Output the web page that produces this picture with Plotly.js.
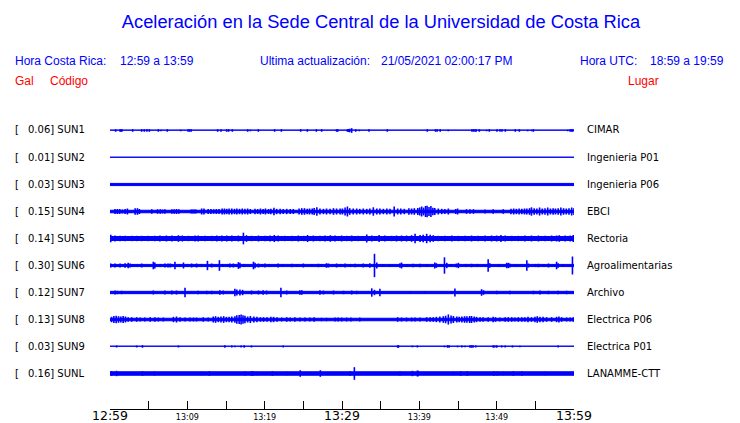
<!DOCTYPE html>
<html><head><meta charset="utf-8">
<script src="https://cdn.plot.ly/plotly-3.0.1.min.js"></script>
<style>html,body{margin:0;padding:0;background:#fff}#chart{width:740px;height:423px}</style>
</head><body><div id="chart"></div>
<script>
// ---- data (times in minutes after 12:59 local, amplitudes in Gal) ----
const codes = ['SUN1','SUN2','SUN3','SUN4','SUN5','SUN6','SUN7','SUN8','SUN9','SUNL'];
const peakGal = ['0.06','0.01','0.03','0.15','0.14','0.30','0.12','0.13','0.03','0.16'];
const places = ['CIMAR','Ingenieria P01','Ingenieria P06','EBCI','Rectoria','Agroalimentarias','Archivo','Electrica P06','Electrica P01','LANAMME-CTT'];
const noiseGal = [0.009, 0.007, 0.028, 0.032, 0.05, 0.028, 0.03, 0.032, 0.007, 0.045];
const tickMinutes = [0,5,10,15,20,25,30,35,40,45,50,55,60];
const tickLabels = ['12:59','','13:09','','13:19','','13:29','','13:39','','13:49','','13:59'];
const majorLabels = ['12:59','13:29','13:59'];

const sun1 = [[0.73,.033],[1.3,.033],[1.42,.033],[1.55,.033],[2.93,.033],[4.09,.033],[4.44,.033],[4.78,.033],[5.09,.033],[6.25,.033],[6.59,.02],[7.41,.033],[9.14,.02],[10.1,.033],[10.3,.033],[10.5,.033],[13.92,.033],[14.35,.033],[15.09,.033],[15.34,.033],[15.82,.033],[17.8,.033],[18.15,.02],[19.18,.033],[21.29,.033],[22.16,.033],[24.66,.033],[25.52,.033],[26.68,.033],[27.37,.033],[29.3,.033],[29.45,.033],[30.7,.033],[30.85,.04],[31.0,.045],[31.25,.06],[31.77,.033],[32.24,.02],[33.49,.033],[35.86,.033],[41.03,.033],[42.1,.033],[42.3,.033],[42.7,.033],[43.75,.02],[46.8,.033],[47.0,.033],[47.2,.033],[47.35,.033],[47.76,.033],[48.7,.02],[49.05,.033],[50.04,.033],[50.43,.033],[50.69,.033],[51.12,.033],[52.41,.033],[52.93,.033],[54.0,.02],[54.53,.02],[54.74,.033],[59.18,.02],[59.5,.033],[59.7,.033],[59.85,.033]];
const sun2 = [];
const sun3 = [];
const sun4 = [[0.65,.064],[0.95,.064],[1.25,.064],[1.6,.051],[1.95,.064],[2.25,.077],[3.25,.085],[3.55,.085],[3.8,.064],[5.4,.059],[6.15,.059],[6.5,.059],[6.8,.051],[7.1,.059],[8.0,.059],[8.3,.059],[8.6,.064],[8.9,.059],[10.5,.051],[10.7,.051],[10.9,.051],[11.1,.051],[11.85,.077],[12.15,.077],[12.7,.064],[13.05,.064],[13.4,.059],[13.75,.064],[14.1,.064],[14.5,.077],[14.8,.077],[15.1,.069],[15.4,.077],[15.75,.077],[16.1,.069],[16.4,.077],[16.75,.069],[17.1,.077],[17.45,.069],[17.8,.077],[18.15,.064],[18.75,.069],[19.1,.064],[19.45,.077],[19.8,.064],[20.1,.077],[20.5,.064],[20.8,.069],[21.2,.095],[21.55,.069],[22.0,.069],[22.4,.064],[22.85,.069],[23.3,.064],[23.7,.064],[24.45,.077],[24.8,.085],[25.15,.085],[25.5,.069],[25.8,.077],[26.15,.077],[26.4,.09],[26.75,.108],[27.15,.077],[27.6,.069],[28.0,.077],[28.45,.069],[28.9,.085],[29.3,.077],[29.75,.077],[30.05,.077],[30.4,.103],[30.7,.128],[31.0,.085],[31.45,.077],[31.9,.077],[32.3,.069],[32.75,.077],[33.2,.069],[33.6,.077],[34.05,.108],[34.5,.077],[34.9,.077],[35.35,.069],[35.8,.077],[36.2,.069],[36.75,.128],[37.2,.077],[37.6,.077],[38.05,.069],[38.65,.085],[39.0,.077],[39.35,.085],[39.8,.09],[40.05,.103],[40.3,.128],[40.55,.1],[40.8,.141],[41.0,.15],[41.25,.115],[41.5,.141],[41.75,.095],[42.0,.09],[42.45,.077],[42.9,.069],[43.3,.064],[43.75,.077],[44.7,.064],[44.95,.077],[46.1,.059],[46.55,.059],[47.0,.059],[48.5,.051],[49.55,.059],[50.85,.059],[51.85,.069],[52.2,.077],[52.55,.069],[52.9,.077],[53.25,.069],[53.6,.077],[53.9,.077],[54.25,.085],[54.5,.108],[54.85,.085],[55.2,.077],[55.55,.103],[55.9,.077],[56.25,.085],[56.6,.103],[56.95,.077],[57.3,.085],[57.6,.077],[57.95,.085],[58.3,.103],[58.65,.085],[59.0,.077],[59.35,.085],[59.7,.103],[60.0,.09]];
const sun5 = [[0.1,.097],[0.65,.077],[1.3,.069],[1.95,.069],[2.8,.069],[3.45,.069],[4.1,.069],[4.95,.069],[5.8,.069],[6.45,.077],[7.3,.077],[8.0,.077],[8.85,.085],[9.35,.077],[10.15,.069],[11.0,.077],[11.4,.077],[12.3,.069],[13.15,.069],[13.8,.077],[14.45,.077],[15.1,.077],[15.75,.077],[16.6,.077],[17.25,.149],[17.65,.085],[18.3,.069],[19.2,.077],[20.05,.069],[20.7,.077],[21.25,.09],[21.75,.077],[22.6,.069],[23.5,.069],[24.35,.077],[25.05,.069],[25.55,.09],[26.3,.077],[27.15,.069],[27.8,.077],[28.5,.085],[29.1,.077],[29.95,.077],[30.6,.069],[31.25,.077],[32.1,.069],[33.2,.103],[33.85,.077],[34.8,.09],[35.55,.077],[36.4,.069],[37.05,.077],[37.7,.077],[38.35,.077],[39.0,.085],[39.45,.121],[40.1,.09],[40.5,.097],[40.95,.121],[41.4,.097],[41.8,.085],[42.45,.069],[43.3,.069],[44.2,.077],[45.05,.069],[45.9,.069],[46.75,.077],[47.6,.069],[48.5,.077],[49.35,.077],[50.0,.077],[50.55,.09],[51.1,.077],[51.95,.069],[52.8,.069],[53.65,.077],[54.5,.077],[55.4,.077],[56.25,.069],[57.1,.077],[57.75,.077],[58.1,.085],[58.85,.077],[59.5,.077],[59.9,.09],
  [0.35,.064],[1.0,.064],[1.6,.064],[2.4,.064],[3.1,.064],[3.8,.064],[4.5,.064],[5.35,.064],[6.1,.064],[6.9,.064],[7.65,.064],[8.4,.064],[9.7,.064],[10.6,.064],[11.8,.064],[12.7,.064],[13.5,.064],[14.1,.064],[14.8,.064],[15.4,.064],[16.2,.064],[16.9,.064],[17.95,.064],[18.7,.064],[19.6,.064],[20.4,.064],[21.0,.064],[22.2,.064],[23.0,.064],[23.9,.064],[24.7,.064],[25.3,.064],[25.9,.064],[26.7,.064],[27.5,.064],[28.15,.064],[28.8,.064],[29.5,.064],[30.3,.064],[30.9,.064],[31.7,.064],[32.6,.064],[33.5,.064],[34.3,.064],[35.2,.064],[35.9,.064],[36.7,.064],[38.0,.064],[38.7,.064],[39.75,.064],[41.6,.064],[42.1,.064],[42.9,.064],[43.7,.064],[44.6,.064],[45.5,.064],[46.3,.064],[47.2,.064],[48.0,.064],[48.9,.064],[49.7,.064],[50.3,.064],[50.8,.064],[51.5,.064],[52.4,.064],[53.2,.064],[54.1,.064],[54.9,.064],[55.8,.064],[56.7,.064],[57.4,.064],[58.5,.064],[59.2,.064]];
const sun6 = [[0.1,.051],[0.65,.051],[1.3,.051],[1.95,.059],[2.35,.069],[2.6,.051],[4.1,.051],[5.6,.097],[5.8,.077],[7.1,.051],[7.5,.051],[7.8,.051],[8.4,.097],[9.5,.077],[10.55,.051],[11.2,.051],[12.6,.12],[13.15,.051],[14.15,.136],[15.5,.051],[15.95,.051],[16.6,.085],[16.8,.069],[18.55,.097],[18.75,.069],[19.2,.051],[20.05,.051],[21.75,.051],[23.5,.044],[25.0,.051],[26.95,.044],[28.0,.059],[28.25,.051],[29.3,.051],[30.4,.051],[31.7,.044],[32.75,.051],[33.6,.059],[34.2,.30],[34.5,.077],[37.5,.059],[37.7,.077],[39.2,.044],[40.1,.044],[42.0,.077],[42.2,.059],[43.25,.21],[43.55,.069],[44.8,.051],[45.05,.069],[46.75,.044],[48.9,.162],[49.1,.059],[51.3,.069],[51.5,.069],[51.7,.051],[53.9,.136],[54.1,.051],[55.4,.044],[56.7,.051],[57.75,.097],[57.95,.059],[59.8,.23],
  [3.0,.04],[3.5,.04],[6.5,.04],[9.0,.04],[10.0,.04],[11.8,.04],[14.6,.04],[15.2,.04],[17.3,.04],[19.7,.04],[20.6,.04],[22.3,.04],[24.2,.04],[26.1,.04],[27.3,.04],[29.8,.04],[31.1,.04],[33.1,.04],[35.3,.04],[36.2,.04],[38.4,.04],[41.0,.04],[44.1,.04],[46.0,.04],[47.5,.04],[50.3,.04],[52.5,.04],[55.0,.04],[56.1,.04],[58.6,.04]];
const sun7 = [[0.65,.051],[0.95,.044],[1.5,.044],[5.6,.051],[7.1,.051],[8.0,.051],[8.6,.051],[9.7,.121],[11.4,.044],[12.5,.044],[13.15,.044],[14.2,.059],[14.65,.051],[16.15,.097],[16.4,.077],[16.8,.077],[17.15,.069],[18.3,.051],[19.2,.051],[19.8,.059],[20.25,.051],[22.1,.12],[22.85,.051],[24.55,.059],[24.8,.059],[27.15,.059],[27.6,.051],[28.9,.051],[30.2,.044],[31.25,.051],[31.9,.044],[33.85,.108],[34.2,.069],[34.9,.097],[38.8,.038],[40.75,.038],[44.6,.103],[48.05,.085],[48.3,.059],[50.0,.044],[51.7,.044],[54.75,.044],[55.6,.051],[56.7,.044],[57.95,.044],[59.05,.044]];
const sun8 = [[0.2,.069],[0.5,.09],[0.8,.097],[1.1,.085],[1.4,.077],[1.7,.09],[2.0,.077],[2.35,.059],[2.8,.059],[3.45,.059],[3.9,.051],[4.5,.051],[5.2,.059],[5.8,.059],[6.25,.051],[6.9,.051],[8.2,.069],[8.6,.077],[9.05,.059],[9.7,.051],[10.35,.051],[10.8,.051],[11.2,.051],[12.05,.059],[12.7,.051],[13.35,.077],[13.65,.085],[14.0,.069],[14.35,.077],[14.7,.085],[15.05,.069],[15.4,.069],[15.75,.077],[16.15,.085],[16.4,.108],[16.7,.115],[16.95,.13],[17.2,.108],[17.45,.097],[17.8,.077],[18.15,.09],[18.6,.077],[19.0,.069],[19.45,.059],[19.85,.059],[20.3,.059],[20.8,.069],[21.15,.069],[21.6,.059],[22.2,.051],[22.85,.059],[23.3,.051],[23.9,.059],[24.55,.051],[25.2,.051],[25.85,.051],[26.4,.059],[27.35,.044],[28.0,.044],[29.1,.051],[29.5,.051],[29.95,.051],[30.6,.051],[31.15,.051],[32.3,.051],[37.2,.059],[37.7,.051],[38.35,.051],[39.0,.051],[39.45,.051],[40.1,.051],[40.95,.059],[41.4,.059],[41.8,.059],[42.2,.069],[42.65,.077],[43.1,.085],[43.4,.097],[43.75,.13],[44.1,.103],[44.4,.09],[44.85,.077],[45.15,.069],[45.5,.077],[45.85,.085],[46.15,.085],[46.5,.09],[46.75,.09],[47.1,.077],[47.4,.069],[47.85,.059],[48.25,.059],[48.9,.059],[49.55,.069],[49.85,.059],[50.4,.051],[51.1,.059],[51.5,.059],[51.95,.059],[52.35,.051],[52.8,.059],[53.25,.059],[53.65,.059],[54.05,.069],[54.5,.059],[54.95,.069],[55.25,.085],[55.6,.069],[56.0,.069],[56.45,.059],[57.1,.059],[57.75,.069],[58.05,.077],[58.4,.059],[59.05,.051],[59.5,.051],[59.9,.059]];
const sun9 = [[0.85,.026],[3.45,.026],[4.2,.033],[8.85,.026],[14.85,.033],[15.75,.026],[16.15,.021],[16.95,.026],[17.35,.033],[18.3,.026],[22.4,.026],[37.2,.033],[37.3,.033],[39.1,.021],[39.75,.026],[43.25,.021],[43.65,.033],[43.85,.033],[44.95,.021],[45.5,.026],[45.9,.021],[46.55,.033],[46.75,.033],[46.95,.033],[47.3,.026],[49.55,.033],[49.75,.026],[50.0,.033],[50.65,.026],[51.1,.026],[52.05,.026],[53.0,.021],[57.95,.026]];
const sunL = [[0.2,.059],[0.85,.069],[4.2,.059],[5.75,.051],[11.85,.044],[12.85,.059],[17.45,.051],[18.3,.059],[18.5,.059],[18.95,.044],[21.0,.059],[22.85,.044],[24.6,.085],[27.2,.085],[31.05,.059],[31.6,.162],[37.5,.051],[39.1,.069],[39.75,.077],[39.85,.069],[44.4,.044],[45.35,.059],[46.2,.059],[49.65,.059],[50.1,.051],[50.85,.044],[52.15,.059],[53.25,.059],[56.25,.044]];
const events = [sun1, sun2, sun3, sun4, sun5, sun6, sun7, sun8, sun9, sunL];

// ---- layout helpers ----
const BLUE = '#0000ff', RED = '#ff0000';
const W = 740, H = 423;
const L = 110, R = 574, T = 115, B = 409;       // plot area (px)
const PX_PER_GAL = 39, ROW_PX = 27, FIRST_ROW_PX = 130.5;
const rowGal = ROW_PX / PX_PER_GAL;
const yTop = (FIRST_ROW_PX - T) / PX_PER_GAL;
const yBot = yTop - (B - T) / PX_PER_GAL;
const center = i => -i * rowGal;

const traces = [];
codes.forEach((c, i) => {
  const y0 = center(i), b = noiseGal[i];
  traces.push({type:'scatter', mode:'lines', x:[0,60,60,0,0], y:[y0+b,y0+b,y0-b,y0-b,y0+b],
    fill:'toself', fillcolor:BLUE, line:{color:BLUE, width:1}, hoverinfo:'skip', showlegend:false});
  const x = [], y = [];
  events[i].forEach(([t, a]) => { x.push(t, t, null); y.push(y0 - a, y0 + a, null); });
  if (x.length) traces.push({type:'scatter', mode:'lines', x, y, line:{color:BLUE, width:1.6},
    hoverinfo:'skip', showlegend:false});
});

const px = x => (x - L) / (R - L);
const py = y => (B - y) / (B - T);
const HEAD = 'Liberation Sans, Arial, sans-serif';
const ann = (text, x, y, opts) => Object.assign({text, x:px(x), y:py(y), xref:'paper', yref:'paper',
  showarrow:false, xanchor:'left', yanchor:'middle', borderpad:0, borderwidth:0,
  font:{family:HEAD, size:12, color:BLUE}}, opts || {});
const redFont = {family:HEAD, size:12, color:RED};

const annotations = [
  ann('Hora Costa Rica:', 15, 61), ann('12:59 a 13:59', 120, 61),
  ann('Ultima actualización:', 260, 61), ann('21/05/2021 02:00:17 PM', 381, 61),
  ann('Hora UTC:', 580, 61), ann('18:59 a 19:59', 650, 61),
  ann('Gal', 15, 81, {font:redFont}), ann('Código', 50, 81, {font:redFont}), ann('Lugar', 628, 81, {font:redFont})
];
const lblFont = {family:'DejaVu Sans, sans-serif', size:10, color:'#000'};
codes.forEach((c, i) => {
  const yy = FIRST_ROW_PX - 0.5 + i * ROW_PX;
  annotations.push(ann('[', 15, yy, {font:lblFont}));
  annotations.push(ann(peakGal[i] + '] ' + c, 28, yy, {font:lblFont}));
  annotations.push(ann(places[i], 587, yy, {font:lblFont}));
});

const ticktext = tickLabels.map(s => majorLabels.includes(s) ? '<span style="font-size:12.5px">' + s + '</span>' : s);

const layout = {
  width:W, height:H, margin:{l:L, r:W-R, t:T, b:H-B, pad:0},
  paper_bgcolor:'#fff', plot_bgcolor:'#fff', showlegend:false, hovermode:false,
  title:{text:'Aceleración en la Sede Central de la Universidad de Costa Rica',
    font:{family:HEAD, size:18.3, color:BLUE},
    xref:'container', yref:'container', x:381/W, xanchor:'center', y:1-22/H, yanchor:'middle'},
  xaxis:{range:[0,60], showgrid:false, zeroline:false, showline:true, linecolor:'#000', linewidth:1,
    ticks:'inside', ticklen:8, tickwidth:1, tickcolor:'#000', tickvals:tickMinutes, ticktext:ticktext,
    tickfont:{family:'DejaVu Sans, sans-serif', size:8, color:'#000'}, fixedrange:true},
  yaxis:{range:[yBot, yTop], visible:false, showgrid:false, zeroline:false, fixedrange:true},
  annotations
};
Plotly.newPlot('chart', traces, layout, {staticPlot:true, displayModeBar:false});
</script></body></html>
